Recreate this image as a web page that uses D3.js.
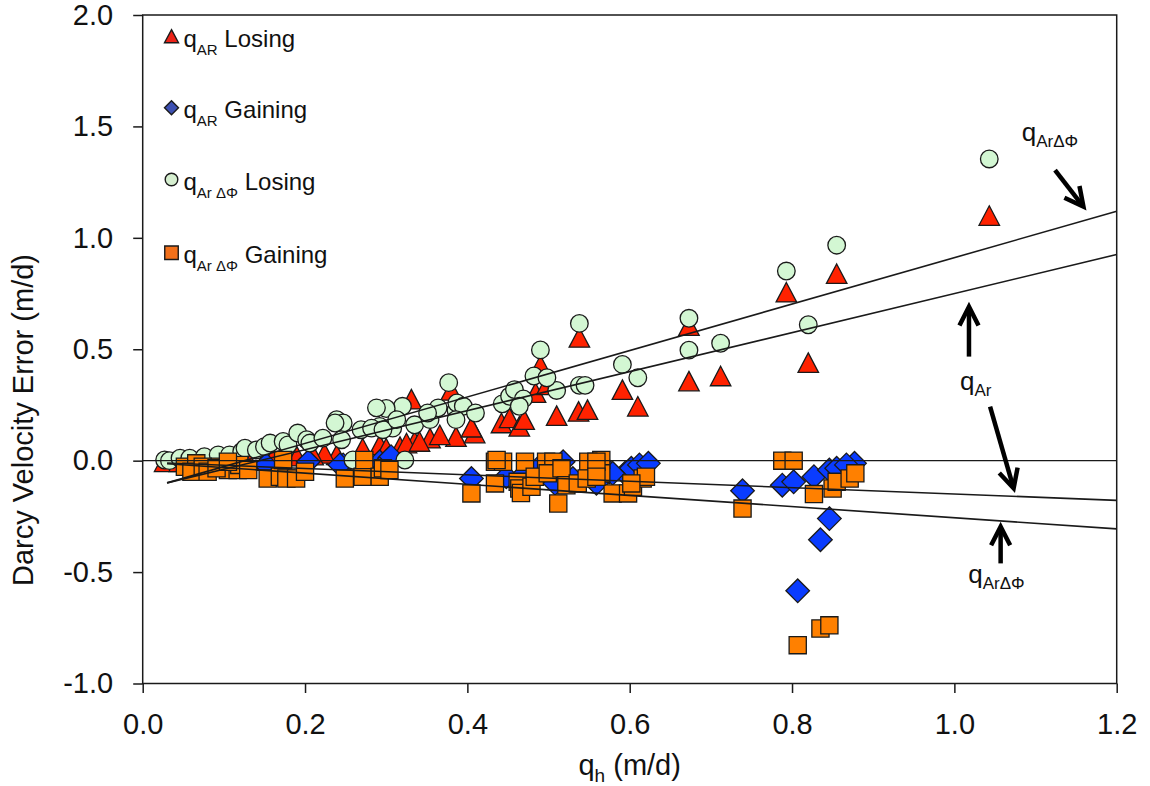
<!DOCTYPE html>
<html>
<head>
<meta charset="utf-8">
<script src="https://cdn.jsdelivr.net/npm/d3@7"></script>
<style>
  html, body { margin: 0; padding: 0; background: #fff; }
  svg { display: block; font-family: "Liberation Sans", Arial, Helvetica, sans-serif; }
</style>
</head>
<body>
<svg id="chart" width="1150" height="786"></svg>
<script>
// ---- Data: [q_h (m/d), Darcy velocity error (m/d)] ----
const qArLosing = [
  [1.043,1.10],[0.855,0.839],[0.793,0.756],[0.673,0.606],[0.673,0.357],[0.712,0.380],[0.820,0.440],
  [0.538,0.553],[0.490,0.428],[0.591,0.319],[0.610,0.244],[0.537,0.221],[0.548,0.229],[0.510,0.202],
  [0.484,0.305],[0.498,0.340],[0.380,0.315],[0.442,0.169],[0.452,0.192],[0.464,0.154],[0.470,0.184],
  [0.386,0.108],[0.409,0.124],[0.331,0.276],[0.335,0.086],[0.354,0.101],[0.292,0.071],[0.317,0.063],
  [0.366,0.116],[0.325,0.079],[0.341,0.086],[0.300,0.056],[0.271,0.056],[0.239,0.026],[0.224,0.033],
  [0.405,0.150],[0.027,-0.005],[0.045,-0.005],[0.070,-0.010],[0.095,-0.005],[0.130,0.000],
  [0.160,0.010],[0.190,0.020],[0.210,0.025]
];
const qArGaining = [
  [0.739,-0.135],[0.788,-0.110],[0.802,-0.095],[0.827,-0.072],[0.846,-0.042],[0.855,-0.034],
  [0.877,-0.012],[0.867,-0.019],[0.846,-0.260],[0.835,-0.355],[0.807,-0.584],
  [0.575,-0.050],[0.594,-0.057],[0.602,-0.034],[0.612,-0.019],[0.623,-0.012],
  [0.405,-0.080],[0.448,-0.072],[0.489,-0.027],[0.518,-0.005],[0.579,-0.057],[0.508,-0.102],
  [0.559,-0.102],[0.470,-0.060],[0.530,-0.080],
  [0.247,-0.019],[0.292,-0.005],[0.304,0.011],[0.152,-0.019],[0.204,-0.005],[0.243,-0.019],[0.306,0.018]
];
const qArDPhiLosing = [
  [1.043,1.354],[0.855,0.967],[0.793,0.851],[0.673,0.639],[0.673,0.496],[0.712,0.527],[0.820,0.610],
  [0.538,0.616],[0.490,0.497],[0.591,0.432],[0.610,0.372],[0.538,0.338],[0.545,0.338],[0.510,0.315],
  [0.482,0.380],[0.498,0.372],[0.377,0.350],[0.443,0.255],[0.452,0.289],[0.458,0.319],[0.469,0.277],
  [0.464,0.244],[0.386,0.226],[0.387,0.259],[0.395,0.244],[0.410,0.214],
  [0.320,0.244],[0.300,0.234],[0.335,0.161],[0.354,0.184],[0.364,0.237],[0.351,0.214],[0.292,0.154],
  [0.308,0.146],[0.239,0.184],[0.247,0.169],[0.269,0.139],[0.288,0.237],[0.282,0.146],[0.296,0.139],
  [0.313,0.184],[0.386,0.184],[0.323,0.003],[0.259,0.003],
  [0.027,0.003],[0.033,0.000],[0.046,0.011],[0.058,0.011],[0.076,0.018],[0.093,0.026],[0.107,0.026],
  [0.122,0.041],[0.126,0.056],[0.140,0.048],[0.150,0.063],[0.157,0.079],[0.173,0.086],[0.179,0.071],
  [0.191,0.124],[0.202,0.094],[0.206,0.079],[0.222,0.101],[0.237,0.169],[0.245,0.094]
];
const qArDPhiGaining = [
  [0.739,-0.215],[0.788,0.000],[0.802,0.000],[0.827,-0.150],[0.850,-0.125],[0.855,-0.095],
  [0.871,-0.080],[0.878,-0.057],[0.807,-0.828],[0.835,-0.753],[0.846,-0.739],
  [0.579,-0.147],[0.598,-0.147],[0.604,-0.117],[0.616,-0.080],[0.620,-0.072],[0.565,0.003],[0.565,-0.057],
  [0.405,-0.147],[0.434,-0.005],[0.444,-0.005],[0.471,-0.005],[0.497,-0.005],[0.506,-0.005],
  [0.549,-0.005],[0.559,-0.005],[0.434,-0.102],[0.462,-0.095],[0.464,-0.125],[0.466,-0.145],
  [0.479,-0.117],[0.483,-0.072],[0.499,-0.057],[0.512,-0.192],[0.516,-0.034],[0.522,-0.110],
  [0.536,-0.102],[0.547,-0.080],[0.559,-0.072],[0.602,-0.102],
  [0.249,-0.080],[0.271,-0.072],[0.273,0.003],[0.292,-0.072],[0.296,-0.034],[0.304,-0.042],[0.436,0.003],
  [0.052,-0.027],[0.066,-0.012],[0.060,-0.050],[0.074,-0.027],[0.080,-0.050],[0.095,-0.027],
  [0.105,-0.042],[0.117,-0.042],[0.119,-0.019],[0.130,-0.042],[0.091,-0.034],[0.105,-0.005],
  [0.154,-0.080],[0.169,-0.072],[0.177,-0.080],[0.189,-0.080],[0.200,-0.050],[0.173,0.003]
];

// Linear fits (slope, intercept), drawn over the fitted q_h range
const fitSlopes     = [1.042, 0.876, -0.143, -0.250];
const fitIntercepts = [-0.131, -0.126, -0.0065, -0.006];
const fitRange      = [0.03, 1.2];

const xTicks = [0.0, 0.2, 0.4, 0.6, 0.8, 1.0, 1.2];
const yTicks = [-1.0, -0.5, 0.0, 0.5, 1.0, 1.5, 2.0];

const legendLabels = [
  { sub: "AR", text: " Losing" },
  { sub: "AR", text: " Gaining" },
  { sub: "Ar \u0394\u03A6", text: " Losing" },
  { sub: "Ar \u0394\u03A6", text: " Gaining" }
];

// ---- Layout ----
const svg = d3.select("#chart");
const plotLeft = 142.7, plotRight = 1116.7, plotTop = 15, plotBottom = 683.5;
const x = d3.scaleLinear().domain([0, 1.2]).range([plotLeft, plotRight]);
const y = d3.scaleLinear().domain([-1, 2]).range([plotBottom, plotTop]);

const ink = "#1a1a1a";

// marker paths centred on (0,0)
const shapes = {
  triangle: (w, h) => `M0,${-h/2}L${w/2},${h/2}L${-w/2},${h/2}Z`,
  diamond: (r) => `M0,${-r}L${r},0L0,${r}L${-r},0Z`,
  square: (s) => `M${-s/2},${-s/2}h${s}v${s}h${-s}Z`,
  circle: (r) => `M${r},0A${r},${r},0,1,1,${-r},0A${r},${r},0,1,1,${r},0Z`
};

const series = [
  { data: qArLosing,      path: shapes.triangle(20.5, 19.5), fill: "#ff2200", legendPath: shapes.triangle(14, 13), legendFill: "#ec2318" },
  { data: qArGaining,     path: shapes.diamond(11.8),       fill: "#0a3cff", legendPath: shapes.diamond(7),       legendFill: "#3d50b2" },
  { data: qArDPhiLosing,  path: shapes.circle(8.8),         fill: "#d3f7d3", legendPath: shapes.circle(6.3),      legendFill: "#d6efd0" },
  { data: qArDPhiGaining, path: shapes.square(17.2),        fill: "#ff8000", legendPath: shapes.square(13.5),     legendFill: "#f2701a" }
];

// ---- Axes ----
// plain hyphen for negatives, one decimal place
const fmt = d => d.toFixed(1);
const xAxis = svg.append("g")
  .attr("transform", `translate(0,${plotBottom})`)
  .call(d3.axisBottom(x).tickValues(xTicks).tickFormat(fmt).tickSize(9.5).tickSizeOuter(0).tickPadding(20));
const yAxis = svg.append("g")
  .attr("transform", `translate(${plotLeft},0)`)
  .call(d3.axisLeft(y).tickValues(yTicks).tickFormat(fmt).tickSize(9.5).tickSizeOuter(0).tickPadding(20));

[xAxis, yAxis].forEach(g => {
  g.select(".domain").remove();
  g.selectAll(".tick line").attr("stroke", ink).attr("stroke-width", 1.5);
  g.selectAll(".tick text").attr("fill", "#111").style("font-size", "29px")
    .style("font-family", "\"Liberation Sans\", Arial, sans-serif");
});

// ---- Markers ----
const plot = svg.append("g");
series.forEach(s => {
  plot.append("g").selectAll("path")
    .data(s.data)
    .join("path")
    .attr("d", s.path)
    .attr("transform", d => `translate(${x(d[0])},${y(d[1])})`)
    .attr("fill", s.fill)
    .attr("stroke", ink)
    .attr("stroke-width", 1.3);
});

// ---- Fit lines and zero line ----
const lineGen = d3.line().x(d => x(d[0])).y(d => y(d[1]));
svg.append("path")
  .attr("d", lineGen([[0, 0], [1.2, 0]]))
  .attr("fill", "none").attr("stroke", ink).attr("stroke-width", 1.3);
fitSlopes.forEach((m, i) => {
  const b = fitIntercepts[i];
  svg.append("path")
    .attr("d", lineGen(fitRange.map(v => [v, b + m * v])))
    .attr("fill", "none").attr("stroke", ink).attr("stroke-width", 1.6);
});

// ---- Frame ----
svg.append("rect")
  .attr("x", plotLeft).attr("y", plotTop)
  .attr("width", plotRight - plotLeft).attr("height", plotBottom - plotTop)
  .attr("fill", "none").attr("stroke", ink).attr("stroke-width", 1.5);

// ---- Axis titles ----
const xt = svg.append("text")
  .attr("x", (plotLeft + plotRight) / 2).attr("y", 775)
  .attr("text-anchor", "middle").attr("fill", "#111")
  .style("font-size", "29px");
xt.append("tspan").text("q");
xt.append("tspan").attr("dy", 7).style("font-size", "19px").text("h");
xt.append("tspan").attr("dy", -7).text(" (m/d)");

svg.append("text")
  .attr("transform", "translate(33,420) rotate(-90)")
  .attr("text-anchor", "middle").attr("fill", "#111")
  .style("font-size", "29px")
  .text("Darcy Velocity Error (m/d)");

// ---- Legend ----
const legendBaselines = [46.7, 118.3, 190, 263.3];
series.forEach((s, i) => {
  const g = svg.append("g");
  g.append("path")
    .attr("d", s.legendPath)
    .attr("transform", `translate(171.5,${legendBaselines[i] - 10.5})`)
    .attr("fill", s.legendFill).attr("stroke", ink).attr("stroke-width", 1.4);
  const t = g.append("text")
    .attr("x", 183.5).attr("y", legendBaselines[i])
    .attr("fill", "#111").style("font-size", "24px");
  t.append("tspan").text("q");
  t.append("tspan").attr("dy", 8).style("font-size", "15px").text(legendLabels[i].sub);
  t.append("tspan").attr("dy", -8).text(legendLabels[i].text);
});

// ---- Annotations: labels and arrows (data coordinates) ----
const noteLabels = [
  { at: [1.083, 1.433], sub: "Ar\u0394\u03A6" },
  { at: [1.007, 0.317], sub: "Ar" },
  { at: [1.017, -0.551], sub: "Ar\u0394\u03A6" }
];
const noteArrows = [
  { from: [1.124, 1.304], to: [1.159, 1.140] },
  { from: [1.018, 0.467], to: [1.018, 0.691] },
  { from: [1.044, 0.242], to: [1.073, -0.124] },
  { from: [1.057, -0.461], to: [1.057, -0.296] }
];

noteLabels.forEach(n => {
  const t = svg.append("text")
    .attr("x", x(n.at[0])).attr("y", y(n.at[1]))
    .attr("fill", "#111").style("font-size", "26px");
  t.append("tspan").text("q");
  t.append("tspan").attr("dy", 6).style("font-size", "17px").text(n.sub);
});

noteArrows.forEach(a => {
  const x0 = x(a.from[0]), y0 = y(a.from[1]);
  const x1 = x(a.to[0]), y1 = y(a.to[1]);
  const ang = Math.atan2(y1 - y0, x1 - x0);
  const len = 21, spread = 27 * Math.PI / 180;
  const w1 = [x1 - len * Math.cos(ang - spread), y1 - len * Math.sin(ang - spread)];
  const w2 = [x1 - len * Math.cos(ang + spread), y1 - len * Math.sin(ang + spread)];
  svg.append("line")
    .attr("x1", x0).attr("y1", y0).attr("x2", x1 - 2 * Math.cos(ang)).attr("y2", y1 - 2 * Math.sin(ang))
    .attr("stroke", "#000").attr("stroke-width", 4.5);
  svg.append("path")
    .attr("d", `M${w1[0]},${w1[1]}L${x1},${y1}L${w2[0]},${w2[1]}`)
    .attr("fill", "none").attr("stroke", "#000").attr("stroke-width", 4.5)
    .attr("stroke-linejoin", "miter");
});
</script>
</body>
</html>
